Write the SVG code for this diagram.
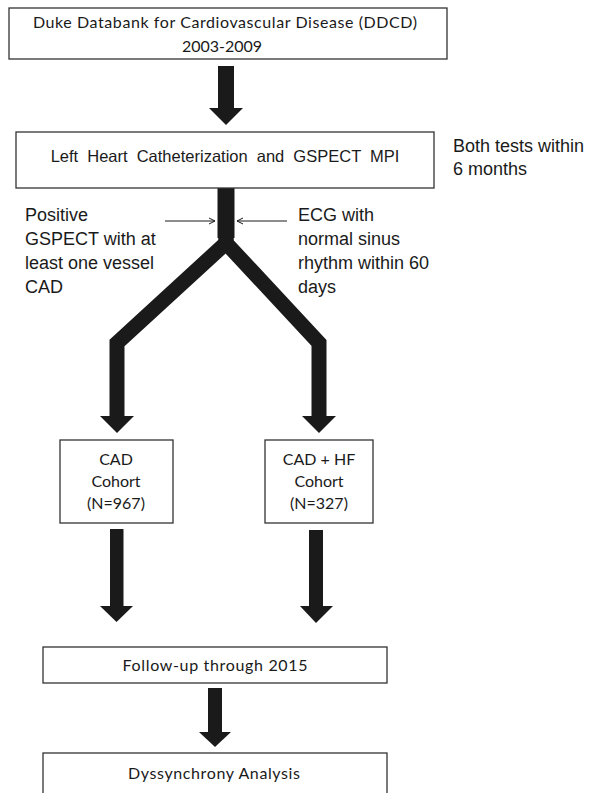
<svg xmlns="http://www.w3.org/2000/svg" width="595" height="793" viewBox="0 0 595 793">
<style>
.box{fill:#fff;stroke:#333;stroke-width:1.3}
.cal{font-family:Lato,"Open Sans","Liberation Sans",sans-serif;font-size:16px;fill:#1a1a1a}
.ar{font-family:"Liberation Sans",Arial,sans-serif;fill:#1a1a1a}
.thick{fill:none;stroke:#1a1a1a;stroke-linejoin:miter;stroke-miterlimit:10}
.head{fill:#1a1a1a}
.thin{stroke:#1a1a1a;stroke-width:1;fill:none}
</style>
<defs>
<marker id="chev" markerWidth="8" markerHeight="8" refX="7" refY="4" orient="auto" markerUnits="userSpaceOnUse">
<path d="M1,1 L7,4 L1,7" fill="none" stroke="#1a1a1a" stroke-width="1"/>
</marker>
</defs>
<g id="connectors">
<rect x="218" y="66" width="16" height="43" class="head"/>
<polygon points="209,108 243,108 226,125" class="head"/>
<polyline points="226,188 226,243 117,343 117,418" class="thick" style="stroke-width:15"/>
<polyline points="226,188 226,243 319,343 319,418" class="thick" style="stroke-width:15"/>
<rect x="217.5" y="188" width="17" height="50" class="head"/>
<polygon points="100,416 134,416 117,433" class="head"/>
<polygon points="302,416 336,416 319,433" class="head"/>
<line x1="165" y1="221" x2="215" y2="221" class="thin" marker-end="url(#chev)"/>
<line x1="287" y1="221" x2="237" y2="221" class="thin" marker-end="url(#chev)"/>
<rect x="110" y="529" width="13.5" height="78" class="head"/>
<polygon points="100,606 133,606 116.5,622" class="head"/>
<rect x="309" y="530" width="14" height="77" class="head"/>
<polygon points="300,606 333,606 316,623" class="head"/>
<rect x="208" y="688" width="14" height="45" class="head"/>
<polygon points="199,732 231,732 215,747" class="head"/>
</g>
<g id="n-ddcd">
<rect x="9" y="8" width="438" height="51" class="box"/>
<text x="225" y="28" class="cal" text-anchor="middle" textLength="384" lengthAdjust="spacing">Duke Databank for Cardiovascular Disease (DDCD)</text>
<text x="222" y="52" class="cal" text-anchor="middle">2003-2009</text>
</g>
<g id="n-lhc">
<rect x="16" y="132" width="418" height="56" class="box"/>
<text x="225" y="162" class="ar" font-size="16.5" word-spacing="4.5" text-anchor="middle">Left Heart Catheterization and GSPECT MPI</text>
</g>
<g id="n-note">
<text class="ar" font-size="18"><tspan x="453" y="152">Both tests within</tspan><tspan x="453" y="175">6 months</tspan></text>
</g>
<g id="n-pos">
<text class="ar" font-size="18"><tspan x="25" y="221">Positive</tspan><tspan x="25" y="245">GSPECT with at</tspan><tspan x="25" y="269">least one vessel</tspan><tspan x="25" y="293">CAD</tspan></text>
</g>
<g id="n-ecg">
<text class="ar" font-size="18"><tspan x="298" y="221">ECG with</tspan><tspan x="298" y="245">normal sinus</tspan><tspan x="298" y="269">rhythm within 60</tspan><tspan x="298" y="293">days</tspan></text>
</g>
<g id="n-cad">
<rect x="60" y="440" width="113" height="83" class="box"/>
<text class="cal" text-anchor="middle"><tspan x="116" y="465">CAD</tspan><tspan x="116" y="487">Cohort</tspan><tspan x="116" y="509">(N=967)</tspan></text>
</g>
<g id="n-cadhf">
<rect x="265" y="440" width="108" height="83" class="box"/>
<text class="cal" text-anchor="middle"><tspan x="319" y="465">CAD + HF</tspan><tspan x="319" y="487">Cohort</tspan><tspan x="319" y="509">(N=327)</tspan></text>
</g>
<g id="n-follow">
<rect x="43" y="647" width="344" height="36" class="box"/>
<text x="215" y="671" class="cal" text-anchor="middle" textLength="185" lengthAdjust="spacing">Follow-up through 2015</text>
</g>
<g id="n-dys">
<rect x="43" y="753" width="344" height="50" class="box"/>
<text x="214" y="779" class="cal" text-anchor="middle" textLength="172" lengthAdjust="spacing">Dyssynchrony Analysis</text>
</g>
</svg>
